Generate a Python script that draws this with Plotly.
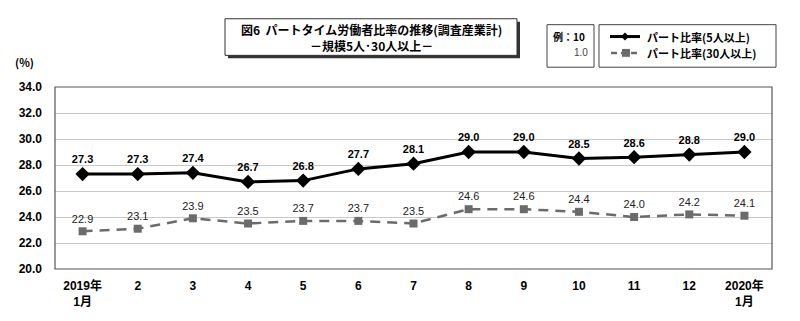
import plotly.graph_objects as go

categories = ["2019年<br>1月", "2", "3", "4", "5", "6", "7", "8", "9", "10", "11", "12", "2020年<br>1月"]
part_5 = [27.3, 27.3, 27.4, 26.7, 26.8, 27.7, 28.1, 29.0, 29.0, 28.5, 28.6, 28.8, 29.0]
part_30 = [22.9, 23.1, 23.9, 23.5, 23.7, 23.7, 23.5, 24.6, 24.6, 24.4, 24.0, 24.2, 24.1]
y_ticks = [20.0, 22.0, 24.0, 26.0, 28.0, 30.0, 32.0, 34.0]

W, H = 800, 321
L, R, T, B = 55, 28, 87, 50
PW, PH = W - L - R, H - T - B

def px(x):
    return (x - L) / PW

def py(y):
    return (H - B - y) / PH

xs = list(range(len(categories)))

fig = go.Figure()
fig.add_trace(go.Scatter(
    x=xs, y=part_30, mode="lines+markers+text",
    line=dict(color="#6b6b6b", width=2.5, dash="10px,7px"),
    marker=dict(symbol="square", size=8, color="#6b6b6b"),
    text=[f"{v:.1f}" for v in part_30], textposition="top center",
    textfont=dict(family="Liberation Sans Narrow, Liberation Sans, Arial", size=11, color="#222"),
    cliponaxis=False, showlegend=False,
))
fig.add_trace(go.Scatter(
    x=xs, y=part_5, mode="lines+markers+text",
    line=dict(color="black", width=3),
    marker=dict(symbol="diamond", size=11, color="black"),
    text=[f"<b>{v:.1f}</b>" for v in part_5], textposition="top center",
    textfont=dict(family="Liberation Sans Narrow, Liberation Sans, Arial", size=11, color="black"),
    cliponaxis=False, showlegend=False,
))

shapes = []
shapes.append(dict(type="rect", xref="paper", yref="paper", x0=0, x1=1, y0=0, y1=1,
                   line=dict(color="#555", width=1.2), fillcolor="rgba(0,0,0,0)", layer="above"))
shapes.append(dict(type="rect", xref="paper", yref="paper", x0=px(228), x1=px(520), y0=py(58), y1=py(21),
                   line=dict(width=0), fillcolor="#333"))
shapes.append(dict(type="rect", xref="paper", yref="paper", x0=px(225), x1=px(517), y0=py(55), y1=py(18),
                   line=dict(color="#333", width=1), fillcolor="white"))
shapes.append(dict(type="rect", xref="paper", yref="paper", x0=px(547), x1=px(594), y0=py(67), y1=py(24),
                   line=dict(color="#444", width=1), fillcolor="white"))
shapes.append(dict(type="rect", xref="paper", yref="paper", x0=px(599), x1=px(776), y0=py(67), y1=py(24),
                   line=dict(color="#444", width=1), fillcolor="white"))
shapes.append(dict(type="line", xref="paper", yref="paper", x0=px(610), x1=px(640), y0=py(36), y1=py(36),
                   line=dict(color="black", width=3)))
shapes.append(dict(type="line", xref="paper", yref="paper", x0=px(611), x1=px(641), y0=py(52.5), y1=py(52.5),
                   line=dict(color="#6b6b6b", width=2.5, dash="6px,4px")))
shapes.append(dict(type="path", xref="paper", yref="paper",
              path=f"M {px(625)},{py(32)} L {px(629)},{py(36)} L {px(625)},{py(40)} L {px(621)},{py(36)} Z",
              fillcolor="black", line=dict(width=0)))
shapes.append(dict(type="rect", xref="paper", yref="paper", x0=px(622), x1=px(630), y0=py(56.5), y1=py(48.5),
              fillcolor="#6b6b6b", line=dict(width=0)))
fig.update_layout(shapes=shapes)

cjk = "Noto Sans CJK JP"
ann = []
ann.append(dict(x=px(371), y=py(28.5), xref="paper", yref="paper", showarrow=False,
                text="<b>図6  パートタイム労働者比率の推移(調査産業計)</b>",
                font=dict(family=cjk, size=12, color="black"), xanchor="center", yanchor="middle"))
ann.append(dict(x=px(371), y=py(45.5), xref="paper", yref="paper", showarrow=False,
                text="<b>－規模5人･30人以上－</b>",
                font=dict(family=cjk, size=12, color="black"), xanchor="center", yanchor="middle"))
ann.append(dict(x=px(551), y=py(36), xref="paper", yref="paper", showarrow=False,
                text="<b>例：10</b>", font=dict(family=cjk, size=10, color="black"),
                xanchor="left", yanchor="middle"))
ann.append(dict(x=px(590), y=py(52), xref="paper", yref="paper", showarrow=False,
                text="1.0", font=dict(family="Liberation Sans Narrow, Liberation Sans", size=10, color="#444"),
                xanchor="right", yanchor="middle"))
ann.append(dict(x=px(645), y=py(36), xref="paper", yref="paper", showarrow=False,
                text="<b>パート比率(5人以上)</b>", font=dict(family=cjk, size=11, color="black"),
                xanchor="left", yanchor="middle"))
ann.append(dict(x=px(645), y=py(52.5), xref="paper", yref="paper", showarrow=False,
                text="<b>パート比率(30人以上)</b>", font=dict(family=cjk, size=11, color="black"),
                xanchor="left", yanchor="middle"))
ann.append(dict(x=px(24), y=py(62), xref="paper", yref="paper", showarrow=False,
                text="<b>(%)</b>", font=dict(family=cjk, size=11, color="black"),
                xanchor="center", yanchor="middle"))
fig.update_layout(annotations=ann)

fig.update_layout(
    width=W, height=H,
    margin=dict(l=L, r=R, t=T, b=B),
    paper_bgcolor="white", plot_bgcolor="white",
    xaxis=dict(range=[-0.5, len(categories) - 0.5], tickmode="array", tickvals=xs,
               ticktext=[f"<b>{c}</b>" for c in categories],
               showgrid=False, zeroline=False, ticks="", showline=False, ticklabelstandoff=8,
               tickfont=dict(family="Liberation Sans, " + cjk, size=12, color="black")),
    yaxis=dict(range=[20, 34], tickmode="array", tickvals=y_ticks,
               ticktext=[f"<b>{v:.1f}</b>" for v in y_ticks],
               showgrid=True, gridcolor="#c8c8c8", gridwidth=1, zeroline=False, ticks="",
               showline=False, ticklabelstandoff=12,
               tickfont=dict(family="Liberation Sans, Arial", size=12, color="black")),
    font=dict(family=cjk),
)

fig.write_html("out.html")
